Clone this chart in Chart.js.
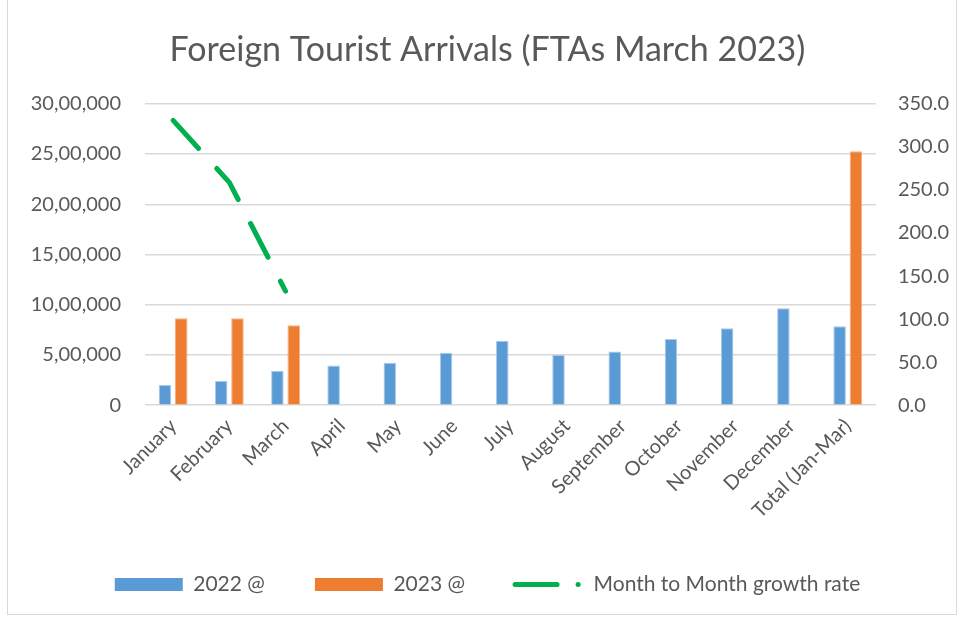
<!DOCTYPE html>
<html>
<head>
<meta charset="utf-8">
<script src="https://cdn.jsdelivr.net/npm/chart.js@4.4.1/dist/chart.umd.min.js"></script>
<style>
  html, body { margin: 0; padding: 0; background: #ffffff; }
  #wrap { position: absolute; left: 0; top: 0; width: 964px; height: 618px; }
  #frame { position: absolute; left: 7px; top: 0px; width: 950px; height: 615px; border: 1px solid #D9D9D9; border-top: none; box-sizing: border-box; }
  #c { position: absolute; left: 0; top: 0; }
</style>
</head>
<body>
<div id="wrap">
  <div id="frame"></div>
  <canvas id="c" width="964" height="618"></canvas>
</div>
<script>
const categories = ["January", "February", "March", "April", "May", "June", "July", "August", "September", "October", "November", "December", "Total (Jan-Mar)"];
const arrivals2022 = [201000, 242000, 342000, 396000, 423000, 523000, 641000, 500000, 534000, 658000, 765000, 966000, 785000];
const arrivals2023 = [866000, 866000, 795000, null, null, null, null, null, null, null, null, null, 2527000];
const growthRate = [330.8, 258.7, 132.5, null, null, null, null, null, null, null, null, null, null];
const leftTicks = [0, 500000, 1000000, 1500000, 2000000, 2500000, 3000000];
const rightTicks = [0, 50, 100, 150, 200, 250, 300, 350];

function fmtIN(n) {
  const s = String(Math.round(n));
  if (s.length <= 3) return s;
  const last3 = s.slice(-3);
  const rest = s.slice(0, -3).replace(/\B(?=(\d{2})+(?!\d))/g, ",");
  return rest + "," + last3;
}

const FONT = "Lato, 'Open Sans', sans-serif";
const GREY = "#595959";

new Chart(document.getElementById("c"), {
  type: "bar",
  data: {
    labels: categories,
    datasets: [
      {
        label: "2022 @",
        data: arrivals2022,
        backgroundColor: "#5B9BD5",
        borderColor: "#A9CBEA",
        borderWidth: 1,
        yAxisID: "y",
        categoryPercentage: 0.58,
        barPercentage: 0.77
      },
      {
        label: "2023 @",
        data: arrivals2023,
        backgroundColor: "#ED7D31",
        borderColor: "#F4B183",
        borderWidth: 1,
        yAxisID: "y",
        categoryPercentage: 0.58,
        barPercentage: 0.77
      },
      {
        type: "line",
        label: "Month to Month growth rate",
        data: growthRate,
        borderColor: "#00B050",
        backgroundColor: "#00B050",
        borderWidth: 5,
        borderDash: [38, 27],
        borderCapStyle: "round",
        borderJoinStyle: "round",
        pointRadius: 0,
        tension: 0,
        fill: false,
        spanGaps: false,
        yAxisID: "y1",
        order: -1
      }
    ]
  },
  options: {
    responsive: false,
    animation: false,
    layout: { padding: { left: 26, right: 15, top: 10, bottom: 13 } },
    plugins: {
      title: {
        display: true,
        text: "Foreign Tourist Arrivals (FTAs March 2023)",
        color: GREY,
        font: { family: FONT, size: 34, weight: "normal" },
        padding: { top: 20, bottom: 33 }
      },
      legend: {
        position: "bottom",
        labels: {
          sort: (a, b) => a.datasetIndex - b.datasetIndex,
          generateLabels: (chart) => {
            const items = Chart.defaults.plugins.legend.labels.generateLabels(chart);
            items.forEach(it => {
              const ds = chart.data.datasets[it.datasetIndex];
              if (ds.type === "line") {
                it.pointStyle = "line";
                it.strokeStyle = "#00B050";
                it.lineWidth = 5;
                it.lineCap = "round";
                it.lineDash = [42, 21, 0.1, 200];
                it.lineDashOffset = 0;
              } else {
                it.pointStyle = "rect";
                it.lineWidth = 0;
                it.strokeStyle = it.fillStyle;
              }
              it.fontColor = GREY;
            });
            return items;
          },
          usePointStyle: true,
          pointStyleWidth: 68,
          color: GREY,
          font: { family: FONT, size: 21 },
          boxWidth: 68,
          boxHeight: 13,
          padding: 50
        }
      },
      tooltip: { enabled: false }
    },
    scales: {
      x: {
        grid: { display: false },
        border: { display: false },
        ticks: {
          color: GREY,
          font: { family: FONT, size: 20 },
          maxRotation: 45,
          minRotation: 45,
          autoSkip: false,
          padding: 1
        }
      },
      y: {
        position: "left",
        min: 0,
        max: 3000000,
        afterBuildTicks: (axis) => { axis.ticks = leftTicks.map(v => ({ value: v })); },
        afterFit: (scale) => { scale.width = 119; },
        grid: { color: "#D9D9D9", lineWidth: 1.5, drawTicks: false },
        border: { display: false },
        ticks: {
          color: GREY,
          font: { family: FONT, size: 20 },
          padding: 24,
          callback: (v) => fmtIN(v)
        }
      },
      y1: {
        position: "right",
        min: 0,
        max: 350,
        afterBuildTicks: (axis) => { axis.ticks = rightTicks.map(v => ({ value: v })); },
        afterFit: (scale) => { scale.width -= 22; },
        grid: { display: false, drawTicks: false },
        border: { display: false },
        ticks: {
          color: GREY,
          font: { family: FONT, size: 20 },
          padding: 22,
          callback: (v) => Number(v).toFixed(1)
        }
      }
    }
  }
});
</script>
</body>
</html>
